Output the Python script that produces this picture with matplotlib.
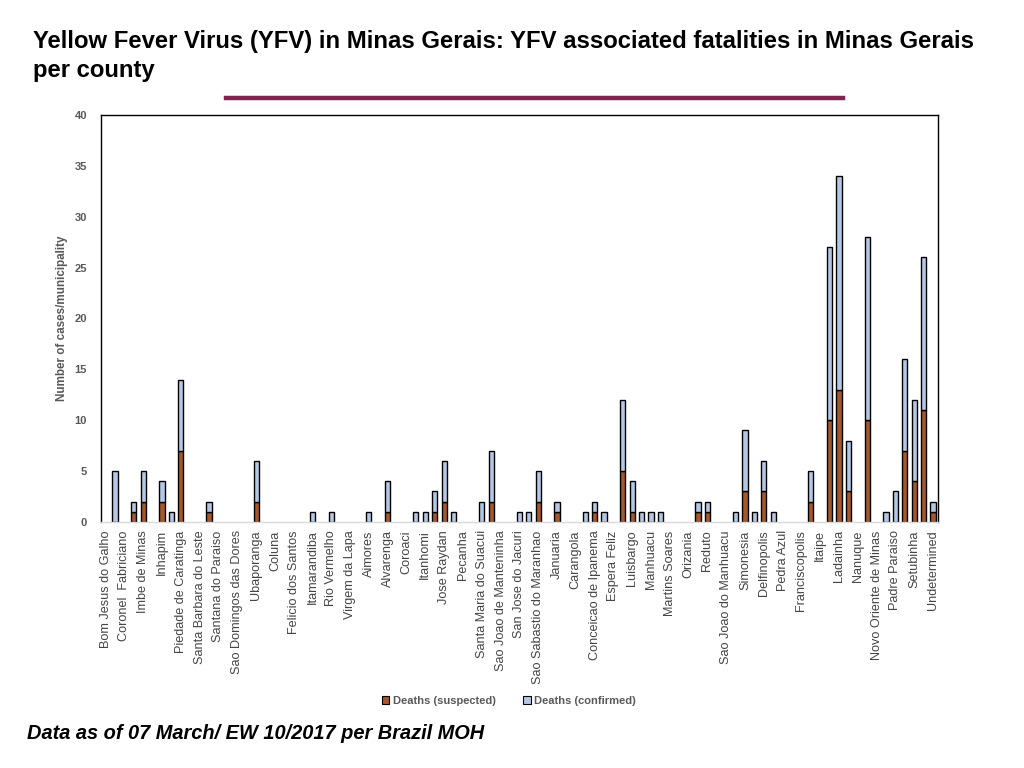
import numpy as np
import matplotlib.pyplot as plt
from matplotlib.lines import Line2D
from matplotlib.patches import Patch

plt.rcParams['font.family'] = ['Liberation Sans', 'DejaVu Sans']

# 89 municipalities on the axis, only every other one is labelled (as in the original)
suspected = [0, 0, 0, 1, 2, 0, 2, 0, 7, 0,
             0, 1, 0, 0, 0, 0, 2, 0, 0, 0,
             0, 0, 0, 0, 0, 0, 0, 0, 0, 0,
             1, 0, 0, 0, 0, 1, 2, 0, 0, 0,
             0, 2, 0, 0, 0, 0, 2, 0, 1, 0,
             0, 0, 1, 0, 0, 5, 1, 0, 0, 0,
             0, 0, 0, 1, 1, 0, 0, 0, 3, 0,
             3, 0, 0, 0, 0, 2, 0, 10, 13, 3,
             0, 10, 0, 0, 0, 7, 4, 11, 1]
confirmed = [0, 5, 0, 1, 3, 0, 2, 1, 7, 0,
             0, 1, 0, 0, 0, 0, 4, 0, 0, 0,
             0, 0, 1, 0, 1, 0, 0, 0, 1, 0,
             3, 0, 0, 1, 1, 2, 4, 1, 0, 0,
             2, 5, 0, 0, 1, 1, 3, 0, 1, 0,
             0, 1, 1, 1, 0, 7, 3, 1, 1, 1,
             0, 0, 0, 1, 1, 0, 0, 1, 6, 1,
             3, 1, 0, 0, 0, 3, 0, 17, 21, 5,
             0, 18, 0, 1, 3, 9, 8, 15, 1]

tick_labels = ["Bom Jesus do Galho", "Coronel  Fabriciano", "Imbe de Minas", "Inhapim",
               "Piedade de Caratinga", "Santa Barbara do Leste", "Santana do Paraiso",
               "Sao Domingos das Dores", "Ubaporanga", "Coluna", "Felicio dos Santos",
               "Itamarandiba", "Rio Vermelho", "Virgem da Lapa", "Aimores", "Alvarenga",
               "Coroaci", "Itanhomi", "Jose Raydan", "Pecanha", "Santa Maria do Suacui",
               "Sao Joao de Manteninha", "San Jose do Jacuri", "Sao Sabastio do Maranhao",
               "Januaria", "Carangola", "Conceicao de Ipanema", "Espera Feliz", "Luisbargo",
               "Manhuacu", "Martins Soares", "Orizania", "Reduto", "Sao Joao do Manhuacu",
               "Simonesia", "Delfinopolis", "Pedra Azul", "Franciscopolis", "Itaipe",
               "Ladainha", "Nanuque", "Novo Oriente de Minas", "Padre Paraiso",
               "Setubinha", "Undetermined"]

c_susp = '#A5582B'
c_conf = '#B4C7E4'
grey = '#595959'

fig = plt.figure(figsize=(10.24, 7.68), dpi=100)
ax = fig.add_axes([0.0986, 0.3203, 0.8171, 0.5300])

x = np.arange(len(suspected))
susp = np.array(suspected)
conf = np.array(confirmed)
# skip empty segments so no outline is drawn on the baseline
m1 = susp > 0
m2 = conf > 0
ax.bar(x[m1], susp[m1], width=0.55, color=c_susp, edgecolor='black', linewidth=1)
ax.bar(x[m2], conf[m2], width=0.55, bottom=susp[m2], color=c_conf,
       edgecolor='black', linewidth=1)

ax.set_xlim(-0.5, len(suspected) - 0.5)
ax.set_ylim(0, 40)
ax.set_yticks(np.arange(0, 41, 5))
ax.set_xticks(x[::2])
ax.set_xticklabels(tick_labels, rotation=90, fontsize=9.1, color='#454545')
ax.tick_params(axis='both', length=0)
ax.tick_params(axis='y', labelsize=8, labelcolor=grey, pad=10)
for lab in ax.get_yticklabels():
    lab.set_fontweight('bold')
ax.tick_params(axis='x', pad=6)
ax.set_ylabel('Number of cases/municipality', fontsize=8.4, fontweight='bold',
              color=grey, labelpad=5)

for s in ['left', 'top', 'right']:
    ax.spines[s].set_color('black')
    ax.spines[s].set_linewidth(1)
ax.spines['bottom'].set_color('#D9D9D9')
ax.spines['bottom'].set_linewidth(1)

# legend under the axis labels
handles = [Patch(facecolor=c_susp, edgecolor='black', linewidth=0.8, label='Deaths (suspected)'),
           Patch(facecolor=c_conf, edgecolor='black', linewidth=0.8, label='Deaths (confirmed)')]
leg = fig.legend(handles=handles, loc='center', bbox_to_anchor=(0.497, 0.087), ncol=2,
                 frameon=False, fontsize=8, handlelength=0.7, handleheight=0.7,
                 handletextpad=0.3, columnspacing=2.5)
for t in leg.get_texts():
    t.set_color(grey)
    t.set_fontweight('bold')

fig.text(0.032, 0.927,
         'Yellow Fever Virus (YFV) in Minas Gerais: YFV associated fatalities in Minas Gerais\nper county',
         fontsize=17.2, fontweight='bold', va='center', ha='left', linespacing=1.3)
fig.add_artist(Line2D([0.2207, 0.8232], [0.8724, 0.8724], color='#7E2451', linewidth=3.2))

fig.text(0.026, 0.045, 'Data as of 07 March/ EW 10/2017 per Brazil MOH', fontsize=14.4,
         fontweight='bold', style='italic', va='center', ha='left')

fig.savefig('out.png', dpi=100)
